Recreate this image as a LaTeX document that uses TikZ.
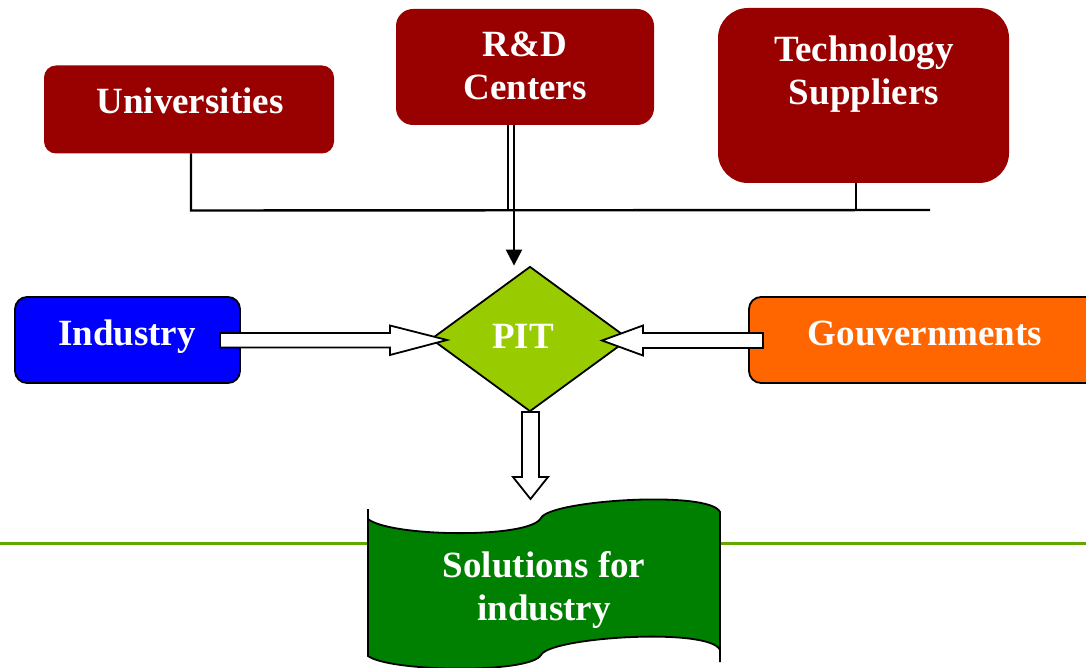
\documentclass[tikz,border=0pt]{standalone}
\usepackage{fontspec}
\setmainfont{Liberation Serif}
\usetikzlibrary{shapes.geometric,arrows.meta,calc}
\definecolor{dred}{HTML}{990000}
\definecolor{iblue}{HTML}{0000FF}
\definecolor{gorange}{HTML}{FF6600}
\definecolor{lime}{HTML}{99CC00}
\definecolor{sgreen}{HTML}{008000}
\definecolor{gline}{HTML}{5FA800}
\begin{document}
\begin{tikzpicture}[x=1pt,y=-1pt,
  topbox/.style={rectangle, rounded corners=#1, fill=dred, inner sep=0pt, outer sep=0pt},
  sidebox/.style={rectangle, rounded corners=12pt, draw=black, line width=1.8pt, inner sep=0pt, outer sep=0pt},
  lbl/.style={text=white, font=\bfseries\fontsize{37}{43}\selectfont, inner sep=0pt, align=center},
  conn/.style={draw=black, line width=2.4pt},
  blockarrow/.style={fill=white, draw=black, line width=1.8pt, line join=miter},
]
\useasboundingbox (0,0) rectangle (1086,668);
\clip (0,0) rectangle (1086,668);

% green horizontal rule
\coordinate (gl) at (0,543);
\coordinate (gr) at (1086,543);
\draw[gline, line width=3pt] (gl) -- (gr);

% top boxes
\node[topbox=12pt, minimum width=290pt, minimum height=88pt] (uni) at (189,109.5) {};
\node[topbox=17pt, minimum width=258pt, minimum height=116pt] (rd) at (525,67) {};
\node[topbox=30pt, minimum width=291pt, minimum height=175pt] (tech) at (863.5,95.5) {};
\node[lbl, anchor=base] (unit) at (190,114) {Universities};
\node[lbl, anchor=base] (rdt) at (525,100) {R\&D\\Centers};
\node[lbl, anchor=base] (techt) at (864,105) {Technology\\Suppliers};

% side boxes
\node[sidebox, fill=iblue, minimum width=225pt, minimum height=86pt] (ind) at (127.5,340) {};
\node[sidebox, fill=gorange, minimum width=352pt, minimum height=86pt] (gov) at (925,340) {};
\node[lbl, anchor=base] (indt) at (127,345) {Industry};
\node[lbl, anchor=base] (govt) at (925,345) {Gouvernments};

% diamond
\node[diamond, fill=lime, draw=black, line width=1.8pt, aspect=1.366,
      minimum width=198pt, minimum height=145pt, inner sep=0pt] (pit) at (530,339) {};
\node[lbl, anchor=base] (pitt) at (523,348) {PIT};

% connectors from top boxes
\coordinate (bar) at (0,210);
\coordinate (barR) at (930,210);
\coordinate (techdrop) at (856,210);
\draw[conn] (uni.south) ++(2,0) -- ++(0,57) -- (barR);
\draw[conn] (techdrop |- tech.south) -- (techdrop);
\draw[conn, line width=1.8pt] ([xshift=-17pt]rd.south) -- ([xshift=-17pt]rd.south |- bar);
\draw[conn, -{Triangle[length=16pt,width=16pt]}] ([xshift=-11pt]rd.south) -- ([xshift=-11pt]rd.south |- pit.north);

% block arrows
\draw[blockarrow] (220,333) -- (390,333) -- (390,325.5) -- (447,340) -- (390,355) -- (390,347.5) -- (220,347.5) -- cycle;
\draw[blockarrow] (763,333) -- (643,333) -- (643,325.5) -- (602,340.5) -- (643,355.5) -- (643,348) -- (763,348) -- cycle;
\draw[blockarrow] (522,412) -- (522,477) -- (513,477) -- (530.5,499) -- (548,477) -- (539,477) -- (539,412) -- cycle;

% wave shape
\draw[fill=sgreen, draw=black, line width=1.8pt]
  (368,509) -- (368,519)
  .. controls (390,537) and (530,539) .. (541,518)
  .. controls (550,500) and (710,490) .. (720,512)
  -- (720,662) -- (720,650)
  .. controls (710,627) and (550,637) .. (541,655)
  .. controls (530,674) and (390,672) .. (368,656)
  -- cycle;
\node[lbl, anchor=base] (solt) at (544,620) {Solutions for\\industry};
\end{tikzpicture}
\end{document}
